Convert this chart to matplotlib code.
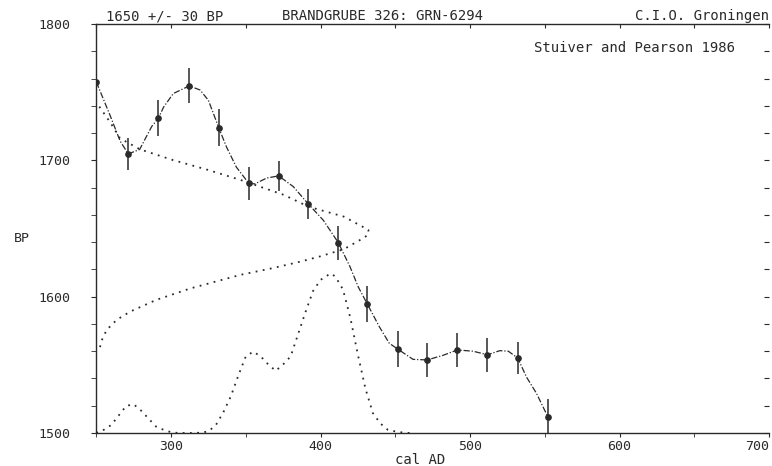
#!/usr/bin/env python3
import matplotlib
matplotlib.use('Agg')
import matplotlib.pyplot as plt
from matplotlib.ticker import MultipleLocator, NullFormatter

# calibration curve data points (cal AD, BP, 1 sigma)
cal_ad = [250, 271.4, 291.5, 312.2, 331.9, 352, 372, 391.8, 411.9, 431.3,
          451.6, 471.4, 491.5, 511.6, 531.9, 552]
cal_bp = [1757.5, 1704.7, 1730.9, 1754.6, 1724, 1683.2, 1688.6, 1668, 1639.6,
          1594.6, 1561.6, 1553.6, 1560.9, 1557.4, 1555, 1512]
cal_err = [12, 11.6, 13.4, 12.8, 13.4, 12.2, 11, 10.8, 12.6, 13, 13, 12.2,
           12.5, 12.6, 11.6, 12.8]

# smooth curve
curve_ad = [250, 259.2, 266, 271.4, 279, 287, 291.5, 295, 301.5, 312.2, 319.4,
            325, 331.9, 337, 343.7, 352, 356, 364, 372, 381.8, 391.8, 401.9,
            411.9, 419.7, 425.3, 431.3, 439.3, 446, 451.6, 461.9, 471.4, 482,
            491.5, 502, 511.6, 520, 525.6, 531.9, 537.8, 544.5, 552]
curve_bp = [1757.5, 1733, 1714, 1704.7, 1708, 1724.7, 1730.9, 1739, 1749,
            1754.6, 1751.6, 1744, 1724, 1710, 1695, 1683.2, 1682.7, 1687,
            1688.6, 1680.7, 1668, 1656, 1639.6, 1622, 1607, 1594.6, 1578,
            1565.8, 1561.6, 1554, 1553.6, 1557, 1560.9, 1560, 1557.4, 1560.4,
            1560, 1555, 1541, 1529, 1512]

# measured date 1650 +/- 30 BP, relative probability drawn along the BP axis
meas_bp = [1739.4, 1728.2, 1716.2, 1708.1, 1700.3, 1693, 1685.6, 1674.6, 1666,
           1658.7, 1649, 1645.5, 1642.8, 1634.8, 1629.4, 1625.7, 1621, 1616,
           1606, 1597.6, 1589, 1583, 1575.6, 1568, 1561]
meas_p = [0.011, 0.05, 0.087, 0.16, 0.28, 0.41, 0.53, 0.69, 0.78, 0.91, 1.0,
          1.0, 0.98, 0.91, 0.82, 0.75, 0.65, 0.53, 0.345, 0.22, 0.124, 0.075,
          0.038, 0.02, 0.011]

# calibrated distribution along the cal AD axis
dist_ad = [250, 255, 260, 265, 270, 275, 280, 285, 290, 295, 300, 305, 310,
           315, 320, 325, 330, 335, 340, 345, 350, 355, 360, 365, 370, 375,
           380, 385, 390, 395, 400, 405, 407, 410, 415, 420, 425, 430, 435,
           440, 445, 450, 455, 460]
dist_p = [0, 0.02, 0.05, 0.11, 0.17, 0.18, 0.14, 0.09, 0.04, 0.02, 0.005, 0,
          0, 0, 0.002, 0.01, 0.05, 0.13, 0.23, 0.36, 0.48, 0.51, 0.48, 0.43,
          0.39, 0.43, 0.48, 0.62, 0.76, 0.89, 0.96, 0.99, 1.0, 0.98, 0.90,
          0.72, 0.49, 0.28, 0.125, 0.06, 0.02, 0.01, 0.003, 0]

ink = '#2a2a2a'
mono = 'DejaVu Sans Mono'
W, H = 772, 466

fig = plt.figure(figsize=(W / 100, H / 100), dpi=100)
ax = fig.add_axes([96.3 / W, 33 / H, 672.7 / W, 409 / H])
ax.set_xlim(250, 700)
ax.set_ylim(1500, 1800)

# distributions scaled into the plot
ax.plot([250 + p * 182 for p in meas_p], meas_bp, color=ink,
        linestyle=(0, (1, 3)), lw=1.3)
ax.plot(dist_ad, [1500 + p * 117 for p in dist_p], color=ink,
        linestyle=(0, (1, 3)), lw=1.3)

ax.plot(curve_ad, curve_bp, color=ink, lw=0.9,
        linestyle=(0, (5, 1.5, 1, 1.5)))
ax.errorbar(cal_ad, cal_bp, yerr=cal_err, fmt='o', ms=3.8, color=ink,
            ecolor=ink, elinewidth=1.1, capsize=0)

for s in ['left', 'bottom', 'top']:
    ax.spines[s].set_color(ink)
    ax.spines[s].set_linewidth(1.0)
ax.spines['right'].set_visible(False)

ax.xaxis.set_minor_locator(MultipleLocator(50))
ax.yaxis.set_minor_locator(MultipleLocator(20))
ax.tick_params(axis='x', which='both', direction='out', length=2.9,
               color=ink, pad=2, labelsize=9.5, labelcolor=ink)
ax.tick_params(axis='y', which='both', direction='out', length=3.6,
               color=ink, pad=15, labelsize=9.5, labelcolor=ink)
ax.set_xticks([300, 400, 500, 600, 700])
ax.set_xticklabels(['300', '400', '500', '600', '700'], family=mono)
ax.get_xticklabels()[-1].set_ha('right')
ax.set_yticks([1500, 1600, 1700, 1800])
ax.set_yticklabels(['1500', '1600', '1700', '1800'], family=mono)
ax.xaxis.set_minor_formatter(NullFormatter())

top = ax.secondary_xaxis('top')
top.xaxis.set_major_locator(MultipleLocator(50))
top.tick_params(direction='in', length=2.9, color=ink, labeltop=False)
top.spines['top'].set_visible(False)

right = ax.secondary_yaxis('right')
right.yaxis.set_major_locator(MultipleLocator(20))
right.tick_params(direction='in', length=3.6, color=ink, labelright=False)
right.spines['right'].set_visible(False)

fig.text(106 / W, 1 - 16 / H, '1650 +/- 30 BP', family=mono, fontsize=10,
         color=ink, va='center', ha='left')
fig.text(282 / W, 1 - 16 / H, 'BRANDGRUBE 326: GRN-6294', family=mono,
         fontsize=10, color=ink, va='center', ha='left')
fig.text(769 / W, 1 - 16 / H, 'C.I.O. Groningen', family=mono, fontsize=10,
         color=ink, va='center', ha='right')
fig.text(534 / W, 1 - 48.5 / H, 'Stuiver and Pearson 1986', family=mono,
         fontsize=10, color=ink, va='center', ha='left')
fig.text(395 / W, 1 - 460 / H, 'cal AD', family=mono, fontsize=10,
         color=ink, va='center', ha='left')
fig.text(14 / W, 1 - 238 / H, 'BP', family=mono, fontsize=9.5,
         color=ink, va='center', ha='left')

fig.savefig('out.png', dpi=100, facecolor='white')
